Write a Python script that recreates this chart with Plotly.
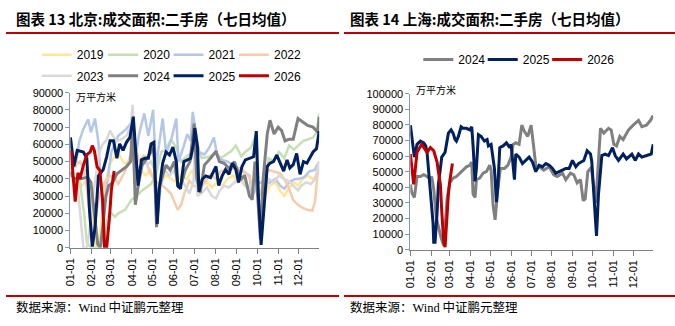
import pandas as pd
import plotly.graph_objects as go

# ---------------- data (day offset from Jan-01, value in 万平方米) ----------------
month_ticks = ["01-01", "02-01", "03-01", "04-01", "05-01", "06-01",
               "07-01", "08-01", "09-01", "10-01", "11-01", "12-01"]

# Beijing
bj2019_d = [0, 7, 14, 21, 28, 32, 36, 40, 44, 50, 57, 63, 70, 77, 84, 91, 96, 103, 110, 117, 123, 127, 132, 140, 148, 155, 162, 170, 178, 186, 193, 200, 207, 215, 222, 230, 238, 245, 252, 258, 265, 270, 275, 280, 285, 292, 300, 307, 313, 320, 327, 333, 340, 347, 354, 361, 364]
bj2019_v = [40000, 38000, 35000, 38000, 35000, 20000, 2000, 0, 10000, 35000, 48000, 52000, 55000, 50000, 48000, 55000, 40000, 45000, 42000, 45000, 38000, 22000, 38000, 42000, 40000, 38000, 42000, 40000, 45000, 38000, 36000, 38000, 35000, 38000, 36000, 40000, 42000, 38000, 40000, 35000, 37000, 40000, 30000, 10000, 30000, 36000, 38000, 33000, 30000, 35000, 38000, 36000, 40000, 42000, 40000, 42000, 45000]

bj2020_d = [0, 7, 14, 20, 24, 30, 40, 50, 55, 60, 65, 70, 80, 89, 97, 104, 111, 118, 125, 133, 140, 147, 155, 162, 170, 177, 185, 192, 203, 213, 220, 227, 235, 242, 250, 257, 264, 271, 275, 279, 285, 290, 298, 305, 313, 320, 327, 335, 341, 348, 355, 360, 364]
bj2020_v = [42000, 40000, 38000, 20000, 3000, 0, 0, 5000, 18000, 20000, 18000, 20000, 22000, 27700, 30000, 33000, 35000, 37000, 42000, 55700, 57000, 63000, 58000, 50000, 53000, 55000, 60000, 52000, 52800, 55000, 52000, 54000, 56000, 59300, 53000, 56000, 58000, 64900, 30000, 5400, 35000, 51900, 50000, 55600, 52000, 59300, 57000, 60000, 62100, 63000, 64000, 66800, 78000]

bj2021_d = [0, 7, 13, 19, 26, 30, 36, 41, 45, 48, 53, 60, 70, 82, 89, 94, 100, 104, 108, 114, 121, 125, 130, 135, 140, 147, 155, 158, 165, 171, 176, 179, 188, 196, 203, 210, 215, 222, 230, 238, 246, 255, 262, 266, 270, 278, 285, 292, 300, 307, 313, 320, 328, 335, 342, 350, 357, 364]
bj2021_v = [64000, 46500, 62000, 69000, 74500, 67000, 75000, 61000, 35000, 18600, 35000, 55700, 65000, 69000, 72500, 48000, 65000, 72500, 78000, 65000, 80000, 46500, 62000, 75000, 55000, 62000, 75000, 50000, 58000, 66000, 62000, 78900, 55600, 54000, 58000, 64000, 53000, 51000, 50000, 48000, 46300, 44000, 42000, 28600, 35000, 38000, 37000, 38000, 40000, 36000, 34200, 38000, 39800, 40000, 41000, 44500, 45000, 50000]

bj2022_d = [0, 7, 14, 21, 28, 32, 36, 42, 50, 58, 65, 70, 80, 89, 94, 100, 108, 115, 122, 130, 138, 147, 152, 157, 162, 167, 174, 180, 188, 196, 205, 213, 220, 230, 240, 250, 260, 266, 272, 278, 285, 292, 300, 307, 313, 319, 326, 333, 340, 347, 354, 358, 361, 364]
bj2022_v = [45000, 48000, 50000, 45000, 20000, 3000, 15000, 30000, 38000, 42000, 40000, 37000, 44500, 55700, 61000, 50000, 53800, 45000, 40000, 37000, 35000, 31500, 27000, 22000, 25000, 32000, 38900, 36000, 35000, 38000, 42600, 40000, 44500, 45000, 46300, 46000, 42000, 37000, 40000, 30000, 44500, 45000, 44000, 43000, 40000, 35200, 27700, 24900, 23100, 22000, 21500, 27000, 40700, 48200]

bj2023_d = [0, 5, 10, 15, 19, 24, 28, 33, 38, 42, 47, 52, 58, 62, 68, 75, 82, 88, 91, 95, 100, 106, 112, 118, 123, 127, 132, 138, 145, 152, 158, 165, 174, 180, 182, 186, 193, 200, 207, 213, 218, 225, 232, 240, 248, 255, 262, 268, 274, 278, 283, 290, 298, 305, 312, 319, 326, 333, 338, 345, 352, 358, 364]
bj2023_v = [45000, 40000, 38000, 15000, 0, 0, 10000, 30000, 45000, 55000, 60000, 62000, 68000, 65000, 62000, 63000, 65000, 70000, 83000, 50000, 45000, 52000, 48000, 50000, 45000, 15000, 35000, 45000, 42000, 45000, 35000, 38000, 31400, 38000, 58000, 30000, 32000, 35000, 30000, 28600, 33000, 36000, 35000, 38000, 40000, 36000, 35000, 38000, 30000, 5000, 30000, 40000, 38000, 42000, 40000, 38900, 36000, 33300, 36000, 38000, 37000, 40000, 50000]

bj2024_d = [0, 5, 15, 25, 30, 35, 40, 44, 48, 52, 56, 62, 68, 75, 82, 88, 91, 95, 100, 105, 112, 118, 122, 126, 130, 135, 140, 146, 152, 158, 163, 168, 175, 181, 185, 190, 196, 205, 213, 218, 225, 232, 240, 245, 250, 255, 262, 266, 270, 274, 278, 282, 288, 292, 298, 304, 309, 314, 320, 326, 333, 340, 347, 355, 362, 364]
bj2024_v = [44000, 40000, 40000, 41000, 38000, 20000, 2000, 300, 15000, 30000, 36000, 38000, 43000, 45000, 47000, 50000, 72000, 25000, 38000, 48000, 52000, 55000, 58000, 12000, 35000, 42000, 48000, 45000, 50000, 35000, 38000, 45000, 50000, 72000, 40000, 32000, 48000, 52000, 56000, 50000, 49000, 46000, 50000, 44000, 40000, 42000, 30000, 28000, 50000, 30000, 5000, 40000, 66000, 74000, 66000, 70000, 68000, 62000, 63000, 63000, 75000, 73000, 71000, 70000, 67000, 76000]

bj2025_d = [0, 5, 10, 19, 24, 28, 32, 36, 41, 48, 53, 58, 63, 68, 72, 77, 82, 87, 92, 95, 99, 104, 109, 114, 118, 122, 124, 127, 130, 135, 140, 145, 150, 155, 157, 161, 166, 172, 176, 180, 182, 186, 188, 193, 198, 205, 213, 217, 222, 227, 232, 237, 242, 246, 251, 256, 261, 268, 272, 275, 279, 283, 288, 292, 297, 302, 307, 312, 317, 321, 326, 331, 336, 341, 346, 350, 355, 360, 364]
bj2025_v = [64000, 47200, 56500, 55600, 51900, 21200, 700, 11900, 41700, 45400, 52800, 62100, 62100, 51900, 60300, 56500, 61200, 64000, 76100, 58400, 36100, 51000, 51900, 51900, 60300, 61200, 39800, 13800, 34200, 49100, 55600, 53800, 58400, 50000, 36100, 34200, 50000, 51000, 51900, 60300, 69500, 58400, 32400, 39800, 41700, 40700, 47200, 36100, 41700, 45400, 42600, 49100, 45400, 37900, 47200, 51000, 51900, 52800, 67700, 30500, 1700, 21200, 47200, 49100, 50000, 53800, 49100, 44500, 51000, 46300, 48200, 54700, 42600, 50000, 49100, 51900, 55600, 57500, 67700]

bj2026_d = [1, 4, 7, 11, 14, 19, 24, 29, 32, 35, 39, 43, 47, 50, 53, 57, 60, 64]
bj2026_v = [56500, 41700, 26800, 43500, 40000, 48000, 54000, 55600, 59300, 56500, 47000, 45000, 28000, 0, 0, 17000, 34000, 44500]

# Shanghai
sh2024_d = [0, 2, 6, 10, 15, 20, 25, 30, 32, 35, 39, 42, 46, 50, 52, 55, 59, 64, 69, 74, 79, 84, 89, 92, 94, 97, 99, 104, 109, 114, 119, 121, 124, 127, 131, 135, 141, 146, 151, 154, 158, 163, 167, 171, 176, 181, 183, 188, 193, 200, 208, 215, 220, 228, 233, 240, 245, 250, 255, 259, 262, 266, 270, 272, 278, 282, 285, 290, 297, 301, 305, 309, 314, 319, 327, 334, 342, 347, 354, 360, 364]
sh2024_v = [41800, 36600, 33500, 46900, 46900, 48000, 46900, 44900, 46900, 38700, 20200, 14000, 7800, 2700, 16100, 32500, 42800, 45900, 46900, 49000, 51000, 53100, 54100, 56200, 35600, 33500, 44900, 45900, 49000, 50000, 54100, 51000, 28400, 19100, 38700, 52100, 52100, 54100, 59300, 67500, 68500, 67500, 79800, 75700, 72600, 79800, 72600, 54100, 53100, 51000, 53100, 48000, 46900, 49000, 44900, 49000, 48000, 42800, 44900, 31500, 32500, 50000, 52100, 50000, 30000, 60000, 77800, 74700, 77800, 76800, 67500, 66500, 72600, 70600, 76800, 79800, 82900, 78800, 79800, 82900, 86000]

sh2025_d = [0, 6, 10, 15, 20, 23, 25, 27, 30, 32, 34, 35, 37, 40, 42, 45, 47, 52, 54, 57, 61, 64, 67, 69, 72, 76, 79, 84, 89, 92, 94, 97, 99, 102, 106, 111, 115, 117, 121, 126, 129, 131, 134, 139, 144, 149, 151, 154, 156, 158, 163, 168, 173, 178, 183, 188, 193, 198, 203, 208, 213, 218, 223, 233, 238, 243, 248, 252, 260, 265, 270, 272, 275, 279, 282, 287, 292, 297, 303, 307, 312, 319, 324, 332, 337, 342, 347, 354, 361, 364]
sh2025_v = [79800, 59300, 67500, 69600, 68500, 66500, 62400, 52100, 39700, 31500, 17100, 4700, 4700, 23300, 41800, 52100, 59300, 62400, 66500, 74700, 76800, 74700, 70600, 69600, 72600, 78800, 77800, 77800, 76800, 78800, 66500, 43800, 52100, 73700, 72600, 69600, 70600, 66500, 67500, 52100, 30500, 39700, 65400, 66500, 68500, 65400, 67500, 51000, 44900, 61300, 59300, 55200, 57200, 59300, 56200, 50000, 54100, 53100, 55200, 54100, 52100, 49000, 50000, 52100, 52100, 57200, 53100, 55200, 57200, 63400, 61300, 56200, 35600, 8800, 35600, 60300, 61300, 60300, 65400, 60300, 57200, 61300, 58200, 61300, 57200, 61300, 59300, 60300, 61300, 67500]

sh2026_d = [0, 2, 5, 10, 17, 25, 30, 35, 40, 42, 45, 47, 50, 52, 54, 57, 59, 63]
sh2026_v = [61300, 53100, 41800, 62400, 67500, 62400, 65400, 63400, 56200, 50000, 41800, 25000, 4700, 1600, 17000, 35600, 43800, 55200]

years_bj = ["2019", "2020", "2021", "2022", "2023", "2024", "2025", "2026"]
years_sh = ["2024", "2025", "2026"]

# ---------------- styles ----------------
colors = {"2019": "#ffe699", "2020": "#c5e0b4", "2021": "#b4c7e7", "2022": "#f8cbad",
          "2023": "#d9d9d9", "2024": "#808080", "2025": "#002060", "2026": "#c00000"}
widths = {"2019": 2.5, "2020": 2.5, "2021": 2.5, "2022": 2.5, "2023": 2.5,
          "2024": 3, "2025": 3, "2026": 3}

# legend text anchor positions in pixels (text left x, centre y)
leg_bj_pos = {"2019": (70, 55), "2020": (137, 55), "2021": (203, 55), "2022": (269, 55),
              "2023": (70, 77), "2024": (137, 77), "2025": (203, 77), "2026": (269, 77)}
leg_sh_pos = {"2024": (455, 60), "2025": (520, 60), "2026": (585, 60)}

BASE = pd.Timestamp("2021-01-01")


def to_dates(days):
    return [BASE + pd.Timedelta(days=int(d)) for d in days]


bj_series = {"2019": (bj2019_d, bj2019_v), "2020": (bj2020_d, bj2020_v),
             "2021": (bj2021_d, bj2021_v), "2022": (bj2022_d, bj2022_v),
             "2023": (bj2023_d, bj2023_v), "2024": (bj2024_d, bj2024_v),
             "2025": (bj2025_d, bj2025_v), "2026": (bj2026_d, bj2026_v)}
sh_series = {"2024": (sh2024_d, sh2024_v), "2025": (sh2025_d, sh2025_v),
             "2026": (sh2026_d, sh2026_v)}

W, H = 675, 326


def px_x(p):
    return p / W


def px_y(p):
    return 1 - p / H


fig = go.Figure()
legfont = dict(family="Liberation Sans, Arial", size=12, color="#000")
legend_layout = {}
k = 0


def next_legend(pos):
    global k
    k += 1
    name = "legend" if k == 1 else f"legend{k}"
    tx, ty = pos
    legend_layout[name] = dict(orientation="h", x=px_x(tx - 39), xanchor="left",
                               y=px_y(ty - 4.5), yanchor="middle", font=legfont,
                               bgcolor="rgba(0,0,0,0)", itemwidth=30)
    return name


for y in years_bj:
    d, v = bj_series[y]
    fig.add_trace(go.Scatter(x=to_dates(d), y=v, mode="lines", name=y,
                             line=dict(color=colors[y], width=widths[y]),
                             xaxis="x", yaxis="y", legend=next_legend(leg_bj_pos[y])))
for y in years_sh:
    d, v = sh_series[y]
    fig.add_trace(go.Scatter(x=to_dates(d), y=v, mode="lines", name=y,
                             line=dict(color=colors[y], width=widths[y]),
                             xaxis="x2", yaxis="y2", legend=next_legend(leg_sh_pos[y])))

tickvals = [pd.Timestamp(f"2021-{m:02d}-01") for m in range(1, 13)]
xcommon = dict(type="date", range=[pd.Timestamp("2021-01-01"), pd.Timestamp("2021-12-31")],
               tickmode="array", tickvals=tickvals, ticktext=month_ticks, tickangle=-90,
               ticks="outside", ticklen=5, tickcolor="#808080", showline=True,
               linecolor="#808080", linewidth=1, showgrid=False, zeroline=False,
               tickfont=dict(family="Liberation Sans, Arial", size=11, color="#000"))
ycommon = dict(ticks="outside", ticklen=4, tickcolor="#8497b0", showline=True,
               linecolor="#8497b0", linewidth=1, showgrid=False, zeroline=False,
               dtick=10000, tickformat="d",
               tickfont=dict(family="Liberation Sans, Arial", size=11, color="#000"))

fig.update_layout(
    width=W, height=H, margin=dict(l=0, r=0, t=0, b=0),
    plot_bgcolor="white", paper_bgcolor="white",
    xaxis=dict(domain=[px_x(65), px_x(316)], anchor="y", **xcommon),
    yaxis=dict(domain=[px_y(251), px_y(90)], anchor="x", range=[0, 90000], **ycommon),
    xaxis2=dict(domain=[px_x(408), px_x(653)], anchor="y2", **xcommon),
    yaxis2=dict(domain=[px_y(253), px_y(91)], anchor="x2", range=[0, 100000], **ycommon),
    showlegend=True,
)
fig.update_layout(legend_layout)

titlefont = dict(family="Noto Sans CJK SC", size=14.5, color="#000")
annotations = []
for text, tx in [("<b>图表 13 北京:成交面积:二手房（七日均值）</b>", 8),
                 ("<b>图表 14 上海:成交面积:二手房（七日均值）</b>", 345)]:
    annotations.append(dict(text=text, x=px_x(tx), y=px_y(13), xref="paper", yref="paper",
                            xanchor="left", yanchor="middle", showarrow=False, font=titlefont))
unitfont = dict(family="Noto Sans CJK SC", size=10, color="#000")
annotations.append(dict(text="万平方米", x=px_x(69), y=px_y(94), xref="paper", yref="paper",
                        xanchor="left", yanchor="middle", showarrow=False, font=unitfont))
annotations.append(dict(text="万平方米", x=px_x(412), y=px_y(87), xref="paper", yref="paper",
                        xanchor="left", yanchor="middle", showarrow=False, font=unitfont))
srcfont = dict(family="Noto Sans CJK SC", size=12.5, color="#000")
for sx in [8, 345]:
    annotations.append(dict(text="数据来源：<span style='font-family:Liberation Serif'>Wind</span> 中证鹏元整理",
                            x=px_x(sx), y=px_y(312), xref="paper", yref="paper",
                            xanchor="left", yanchor="middle", showarrow=False, font=srcfont))
fig.update_layout(annotations=annotations)

shapes = []
for x0, x1 in [(0, 336), (341, 675)]:
    for yy in [28, 301]:
        shapes.append(dict(type="line", xref="paper", yref="paper", x0=px_x(x0), x1=px_x(x1),
                           y0=px_y(yy), y1=px_y(yy), line=dict(color="#c00000", width=2)))
fig.update_layout(shapes=shapes)

fig.write_html("out.html")
